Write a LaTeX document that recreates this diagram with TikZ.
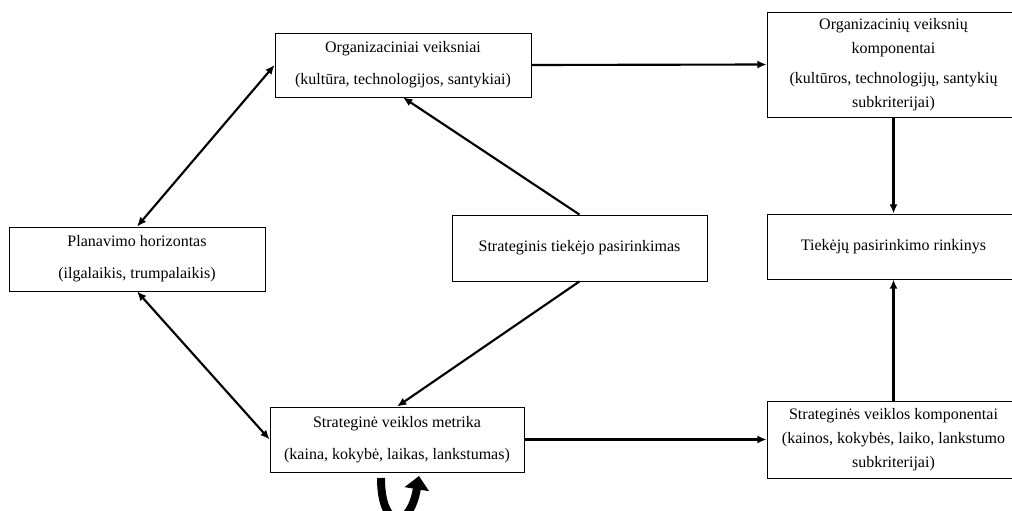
\documentclass[tikz,border=0pt]{standalone}
\usepackage{fontspec}
\setmainfont{Liberation Serif}
\usetikzlibrary{arrows.meta,positioning,calc}

\begin{document}
\begin{tikzpicture}[
  x=0.75pt, y=-0.75pt,
  box/.style={draw, line width=0.6pt, align=center, inner sep=2pt,
    font=\fontsize{12}{18}\selectfont},
  link/.style={line width=1.6pt, -{Latex[length=7pt,width=6pt]}},
  both/.style={line width=1.6pt, {Latex[length=7pt,width=6pt]}-{Latex[length=7pt,width=6pt]}}
]
  \useasboundingbox (0,0) rectangle (1012,510);
  \node[box, minimum width=192pt, minimum height=48pt] (org) at (403,65)
    {Organizaciniai veiksniai\\[6pt](kultūra, technologijos, santykiai)};
  \node[box, minimum width=189.75pt, minimum height=78.75pt] (orgkomp) at (893.5,64.5)
    {Organizacinių veiksnių\\komponentai\\[4pt](kultūros, technologijų, santykių\\subkriterijai)};
  \node[box, minimum width=192pt, minimum height=48pt] (plan) at (137,259)
    {Planavimo horizontas\\[6pt](ilgalaikis, trumpalaikis)};
  \node[box, minimum width=191.25pt, minimum height=49.5pt] (strat) at (579.5,248)
    {Strateginis tiekėjo pasirinkimas};
  \node[box, minimum width=189.75pt, minimum height=48.75pt] (tiek) at (893.5,246.5)
    {Tiekėjų pasirinkimo rinkinys};
  \node[box, minimum width=190.5pt, minimum height=48.75pt] (metr) at (397,439.5)
    {Strateginė veiklos metrika\\[6pt](kaina, kokybė, laikas, lankstumas)};
  \node[box, minimum width=189.75pt, minimum height=57.75pt] (skomp) at (893.5,439.5)
    {Strateginės veiklos komponentai\\(kainos, kokybės, laiko, lankstumo\\subkriterijai)};

  \draw[both] (plan.north) -- (org.west);
  \draw[both] (plan.south) -- (metr.west);
  \draw[link] (strat.north) -- (org.south);
  \draw[link] (strat.south) -- (metr.north);
  \draw[link] (org.east) -- (orgkomp.west);
  \draw[link] (metr.east) -- (skomp.west);
  \draw[link] (orgkomp.south) -- (tiek.north);
  \draw[link] (skomp.north) -- (tiek.south);
  % loop under the metric box
  \coordinate (lp) at (381,478);
  \coordinate (lq) at (419,476);
  \draw[line width=6pt, -{Triangle[length=10pt,width=18pt]}]
    (lp) .. controls (381,530) and (410,530) .. (lq);
\end{tikzpicture}
\end{document}
